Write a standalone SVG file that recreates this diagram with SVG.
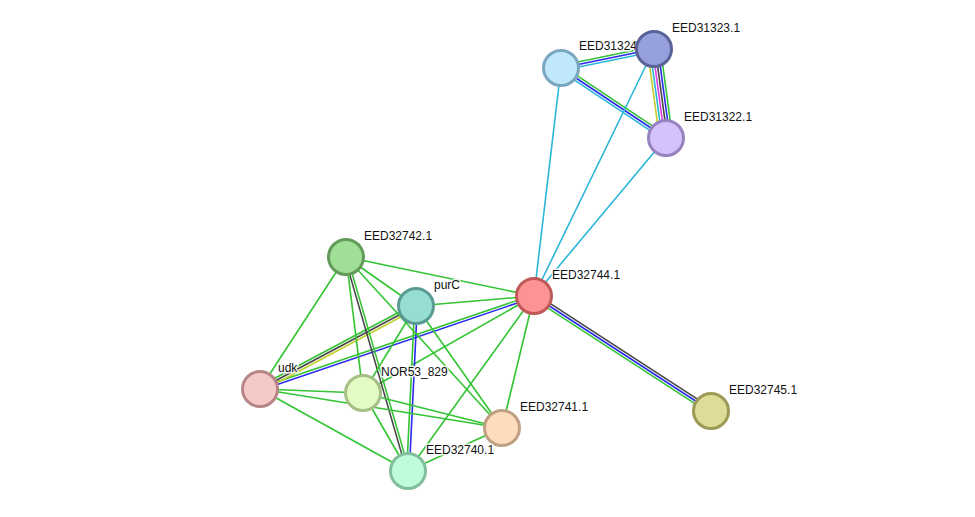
<svg xmlns="http://www.w3.org/2000/svg" width="975" height="517" viewBox="0 0 975 517">
<style>
line{stroke-width:1.6;fill:none}
.g{stroke:#33c433}.b{stroke:#2b2bf0}.k{stroke:#464646}.c{stroke:#2cb6d8}.m{stroke:#e03ce0}.y{stroke:#c2d02c}
circle{stroke-width:3}
text{font-family:"Liberation Sans",Arial,sans-serif;font-size:12px;fill:#111;stroke:#fff;stroke-width:3;stroke-opacity:0.85;paint-order:stroke;stroke-linejoin:round}
</style>
<rect width="975" height="517" fill="#fff"/>
<g id="edges">
<line class="g" x1="560.5" y1="65.55" x2="653.5" y2="46.55"/>
<line class="b" x1="561" y1="68" x2="654" y2="49"/>
<line class="c" x1="561.5" y1="70.45" x2="654.5" y2="51.45"/>
<line class="g" x1="562.4" y1="65.9" x2="667.4" y2="135.9"/>
<line class="b" x1="561" y1="68" x2="666" y2="138"/>
<line class="c" x1="559.6" y1="70.1" x2="664.6" y2="140.1"/>
<line class="y" x1="647.56" y1="49.87" x2="659.56" y2="138.87"/>
<line class="c" x1="650.14" y1="49.52" x2="662.14" y2="138.52"/>
<line class="m" x1="652.71" y1="49.17" x2="664.71" y2="138.17"/>
<line class="k" x1="655.29" y1="48.83" x2="667.29" y2="137.83"/>
<line class="b" x1="657.86" y1="48.48" x2="669.86" y2="137.48"/>
<line class="g" x1="660.44" y1="48.13" x2="672.44" y2="137.13"/>
<line class="c" x1="561" y1="68" x2="534" y2="296"/>
<line class="c" x1="654" y1="49" x2="534" y2="296"/>
<line class="c" x1="666" y1="138" x2="534" y2="296"/>
<line class="k" x1="535.4" y1="293.8" x2="712.4" y2="408.8"/>
<line class="b" x1="534" y1="296" x2="711" y2="411"/>
<line class="g" x1="532.6" y1="298.2" x2="709.6" y2="413.2"/>
<line class="g" x1="346" y1="257" x2="534" y2="296"/>
<line class="g" x1="416" y1="306" x2="534" y2="296"/>
<line class="g" x1="363" y1="393" x2="534" y2="296"/>
<line class="g" x1="502" y1="428" x2="534" y2="296"/>
<line class="g" x1="408" y1="471" x2="534" y2="296"/>
<line class="g" x1="259.6" y1="387.8" x2="533.6" y2="294.8"/>
<line class="b" x1="260.4" y1="390.2" x2="534.4" y2="297.2"/>
<line class="g" x1="258.8" y1="386.7" x2="414.8" y2="303.7"/>
<line class="k" x1="260" y1="389" x2="416" y2="306"/>
<line class="y" x1="261.2" y1="391.3" x2="417.2" y2="308.3"/>
<line class="k" x1="344.75" y1="257.36" x2="406.75" y2="471.36"/>
<line class="g" x1="347.25" y1="256.64" x2="409.25" y2="470.64"/>
<line class="g" x1="414.7" y1="305.9" x2="406.7" y2="470.9"/>
<line class="b" x1="417.3" y1="306.1" x2="409.3" y2="471.1"/>
<line class="g" x1="346" y1="257" x2="260" y2="389"/>
<line class="g" x1="346" y1="257" x2="363" y2="393"/>
<line class="g" x1="346" y1="257" x2="416" y2="306"/>
<line class="g" x1="346" y1="257" x2="502" y2="428"/>
<line class="g" x1="416" y1="306" x2="363" y2="393"/>
<line class="g" x1="416" y1="306" x2="502" y2="428"/>
<line class="g" x1="260" y1="389" x2="363" y2="393"/>
<line class="g" x1="260" y1="389" x2="502" y2="428"/>
<line class="g" x1="260" y1="389" x2="408" y2="471"/>
<line class="g" x1="363" y1="393" x2="502" y2="428"/>
<line class="g" x1="363" y1="393" x2="408" y2="471"/>
<line class="g" x1="502" y1="428" x2="408" y2="471"/>
</g>
<g id="EED31324">
<text x="579" y="50">EED31324</text>
<circle cx="561" cy="68" r="17.5" fill="#c0e8fd" stroke="#7ba6c0"/>
</g>
<g id="EED31323.1">
<text x="672" y="32">EED31323.1</text>
<circle cx="654" cy="49" r="17.5" fill="#96a0dd" stroke="#5a6399"/>
</g>
<g id="EED31322.1">
<text x="684" y="121">EED31322.1</text>
<circle cx="666" cy="138" r="17.5" fill="#d4c2fd" stroke="#9683c0"/>
</g>
<g id="EED32742.1">
<text x="364" y="240">EED32742.1</text>
<circle cx="346" cy="257" r="17.5" fill="#a0df96" stroke="#639c5a"/>
</g>
<g id="purC">
<text x="434" y="289">purC</text>
<circle cx="416" cy="306" r="17.5" fill="#96ddd4" stroke="#5a9c94"/>
</g>
<g id="EED32744.1">
<text x="552" y="279">EED32744.1</text>
<circle cx="534" cy="296" r="17.5" fill="#fd9393" stroke="#c05a5a"/>
</g>
<g id="udk">
<text x="278" y="372">udk</text>
<circle cx="260" cy="389" r="17.5" fill="#f6c9c9" stroke="#b88686"/>
</g>
<g id="NOR53_829">
<text x="381" y="376">NOR53_829</text>
<circle cx="363" cy="393" r="17.5" fill="#e3fcc4" stroke="#a5bf86"/>
</g>
<g id="EED32741.1">
<text x="520" y="411">EED32741.1</text>
<circle cx="502" cy="428" r="17.5" fill="#fddcbe" stroke="#c0a083"/>
</g>
<g id="EED32740.1">
<text x="426" y="454">EED32740.1</text>
<circle cx="408" cy="471" r="17.5" fill="#c0fcdc" stroke="#82be9c"/>
</g>
<g id="EED32745.1">
<text x="729" y="394">EED32745.1</text>
<circle cx="711" cy="411" r="17.5" fill="#dedc96" stroke="#9c9a56"/>
</g>
</svg>
